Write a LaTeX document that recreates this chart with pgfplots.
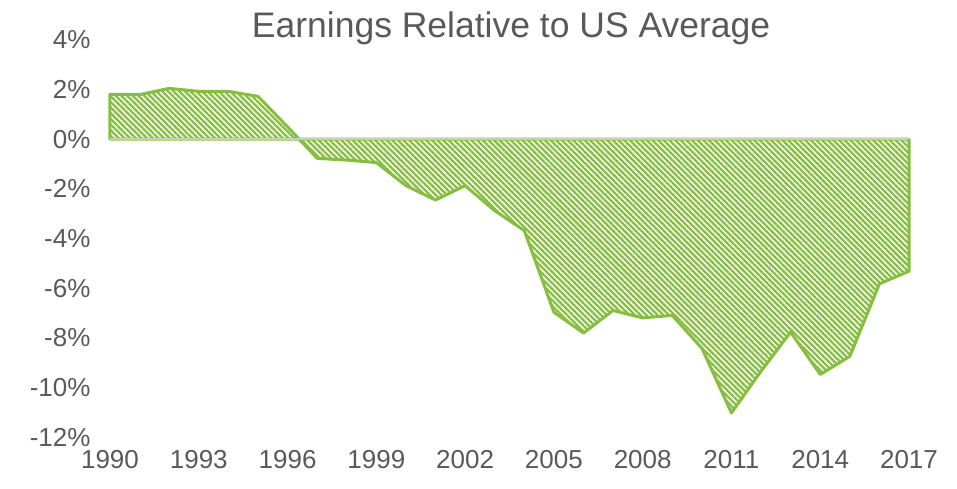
\documentclass[border=0pt]{standalone}
\usepackage{fontspec}
\setmainfont{Liberation Sans}
\usepackage{pgfplots}
\pgfplotsset{compat=1.18}
\usetikzlibrary{patterns.meta}
\definecolor{areagreen}{RGB}{134,191,64}
\definecolor{txtgray}{RGB}{89,89,89}
\definecolor{zerogray}{RGB}{200,205,195}
\begin{document}
\begin{tikzpicture}
\begin{axis}[
  at={(0,0)}, anchor=south west,
  scale only axis,
  width=799bp, height=397bp,
  xmin=1990, xmax=2017, ymin=-12, ymax=4,
  axis line style={draw=none},
  major tick length=0pt,
  tick style={draw=none},
  xtick={1990,1993,1996,1999,2002,2005,2008,2011,2014,2017},
  xticklabels={1990,1993,1996,1999,2002,2005,2008,2011,2014,2017},
  ytick={-12,-10,-8,-6,-4,-2,0,2,4},
  yticklabels={-12\%,-10\%,-8\%,-6\%,-4\%,-2\%,0\%,2\%,4\%},
  ticklabel style={font=\fontsize{26bp}{30bp}\selectfont, text=txtgray},
  xticklabel style={anchor=north, yshift=-10bp},
  yticklabel style={anchor=east, xshift=-16bp},
  clip=false,
]
\addplot[draw=areagreen, line width=3bp, line join=round,
  pattern={Lines[angle=-45, distance=4bp, line width=2.3bp]}, pattern color=areagreen]
coordinates {
(1990,1.81) (1991,1.80) (1992,2.05) (1993,1.93) (1994,1.93) (1995,1.73)
(1996,0.50) (1997,-0.77) (1998,-0.84) (1999,-0.94) (2000,-1.87) (2001,-2.45)
(2002,-1.87) (2003,-2.88) (2004,-3.68) (2005,-6.97) (2006,-7.81) (2007,-6.90)
(2008,-7.20) (2009,-7.10) (2010,-8.42) (2011,-11.03) (2012,-9.35) (2013,-7.77)
(2014,-9.48) (2015,-8.75) (2016,-5.83) (2017,-5.32)
} \closedcycle;
\addplot[draw=zerogray, line width=2bp] coordinates {(1990,0) (2017,0)};
\node[anchor=base, text=txtgray, font=\fontsize{35.5bp}{40bp}\selectfont]
  at (rel axis cs:0.502,1) [yshift=2bp] {Earnings Relative to US Average};
\end{axis}
\pgfresetboundingbox
\path (-110bp,-52bp) rectangle (847bp,437bp);
\end{tikzpicture}
\end{document}
